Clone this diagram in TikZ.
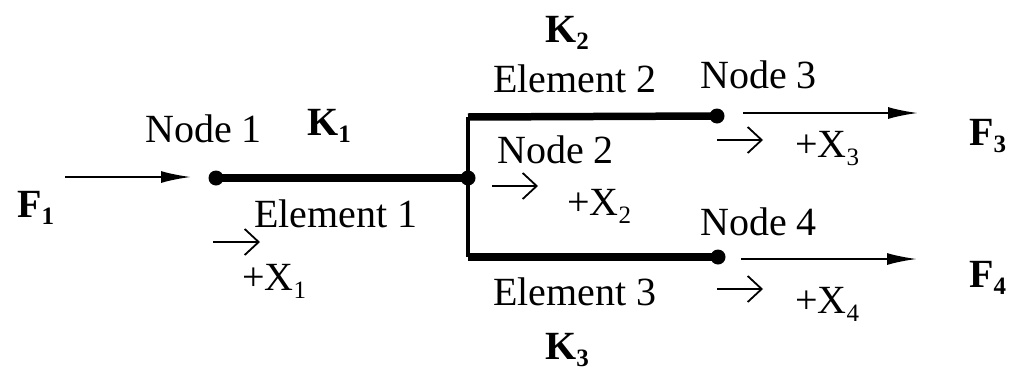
\documentclass[tikz,border=0pt]{standalone}
\usepackage{fontspec}
\setmainfont{Liberation Serif}
\usetikzlibrary{arrows.meta}
\newcommand\mysb[1]{\raisebox{-0.22em}{\fontsize{25}{25}\selectfont #1}}
\newcommand\mybsb[1]{\raisebox{-0.18em}{\fontsize{25}{25}\selectfont\bfseries #1}}
\begin{document}
\begin{tikzpicture}[x=1pt,y=-1pt,
  lbl/.style={anchor=base west,inner sep=0pt,font=\fontsize{40}{48}\selectfont},
  dotnode/.style={circle,fill=black,inner sep=0pt,minimum size=15pt},
  elem/.style={line width=7.5pt},
  vert/.style={line width=4pt},
  force/.style={line width=2.2pt,-{Latex[length=30pt,width=12pt]}},
  dirarrow/.style={line width=1.8pt,-{Straight Barb[length=14pt,width=26pt,line width=1.8pt]}}]
\useasboundingbox (0,0) rectangle (1014,370);
% nodes (dots)
\node[dotnode] (n1) at (216,178) {};
\node[dotnode] (n2) at (468,178) {};
\node[dotnode] (n3) at (717,116) {};
\node[dotnode] (n4) at (718,257) {};
\coordinate (tl) at (468,117);
\coordinate (bl) at (468,257);
% elements
\draw[vert] (tl) -- (bl);
\draw[elem] (n1.center) -- (n2.center);
\draw[elem] (tl) -- (n3.center);
\draw[elem] (bl) -- (n4.center);
% forces
\coordinate (f1s) at (65,177);
\coordinate (f1e) at (191,177);
\coordinate (f3s) at (743,113);
\coordinate (f3e) at (918,113);
\coordinate (f4s) at (741,259);
\coordinate (f4e) at (917,259);
\draw[force] (f1s) -- (f1e);
\draw[force] (f3s) -- (f3e);
\draw[force] (f4s) -- (f4e);
% direction arrows
\coordinate (d1s) at (213,242); \coordinate (d1e) at (260,242);
\coordinate (d2s) at (492,186); \coordinate (d2e) at (538,186);
\coordinate (d3s) at (717,140); \coordinate (d3e) at (763,140);
\coordinate (d4s) at (717,289); \coordinate (d4e) at (763,289);
\draw[dirarrow] (d1s) -- (d1e);
\draw[dirarrow] (d2s) -- (d2e);
\draw[dirarrow] (d3s) -- (d3e);
\draw[dirarrow] (d4s) -- (d4e);
% labels
\node[lbl] (F1) at (17,217) {\textbf{F}\mybsb{1}};
\node[lbl] (F3) at (969,145) {\textbf{F}\mybsb{3}};
\node[lbl] (F4) at (969,287) {\textbf{F}\mybsb{4}};
\node[lbl] (N1) at (145,142) {Node 1};
\node[lbl] (N2) at (497,163) {Node 2};
\node[lbl] (N3) at (700,88) {Node 3};
\node[lbl] (N4) at (700,235) {Node 4};
\node[lbl] (K1) at (307,135) {\textbf{K}\mybsb{1}};
\node[lbl] (K2) at (545,42) {\textbf{K}\mybsb{2}};
\node[lbl] (K3) at (545,359) {\textbf{K}\mybsb{3}};
\node[lbl] (E1) at (254,227) {Element 1};
\node[lbl] (E2) at (493,92) {Element 2};
\node[lbl] (E3) at (493,305) {Element 3};
\node[lbl] (X1) at (242,290) {+X\mysb{1}};
\node[lbl] (X2) at (567,215) {+X\mysb{2}};
\node[lbl] (X3) at (795,157) {+X\mysb{3}};
\node[lbl] (X4) at (795,313) {+X\mysb{4}};
\end{tikzpicture}
\end{document}
